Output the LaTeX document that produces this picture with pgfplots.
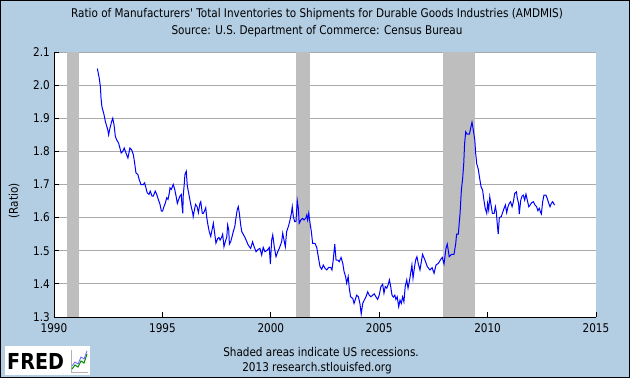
\documentclass[border=0pt]{standalone}
\usepackage{pgfplots}
\pgfplotsset{compat=1.18}
\usepackage{fontspec}
\setmainfont{DejaVu Sans}[FakeStretch=0.87, Ligatures=TeXOff]
\definecolor{fredbg}{RGB}{179,205,227}
\definecolor{recgray}{RGB}{190,190,190}
\definecolor{gridgray}{RGB}{170,170,170}
\definecolor{fredline}{RGB}{0,0,255}
\begin{document}
\fontsize{12}{14}\selectfont
\begin{tikzpicture}[x=1pt,y=1pt]
\fill[fredbg] (0,0) rectangle (630,378);
\useasboundingbox (0,0) rectangle (630,378);
\begin{axis}[
  at={(54pt,61pt)}, anchor=south west,
  scale only axis, width=542pt, height=265pt,
  xmin=1990, xmax=2015, ymin=1.3, ymax=2.1,
  axis x line*=bottom, axis y line*=left,
  axis background/.style={fill=white},
  xtick={1990,1995,2000,2005,2010,2015},
  ytick={1.3,1.4,1.5,1.6,1.7,1.8,1.9,2.0,2.1},
  ymajorgrids,
  major grid style={gridgray, line width=1pt},
  tick align=inside, major tick length=5pt,
  tick style={black, line width=1pt},
  axis line style={black, line width=1pt},
  /pgf/number format/assume math mode=true,
  tick label style={font=\fontsize{12}{14}\selectfont},
  xticklabel style={/pgf/number format/set thousands separator={}, yshift=-2pt},
  yticklabel style={/pgf/number format/.cd, fixed, fixed zerofill, precision=1},
  clip=true,
]
\addplot[fill=recgray, draw=none] coordinates {(1990.58,1.3) (1990.58,2.1) (1991.17,2.1) (1991.17,1.3)} -- cycle;
\addplot[fill=recgray, draw=none] coordinates {(2001.17,1.3) (2001.17,2.1) (2001.83,2.1) (2001.83,1.3)} -- cycle;
\addplot[fill=recgray, draw=none] coordinates {(2007.92,1.3) (2007.92,2.1) (2009.42,2.1) (2009.42,1.3)} -- cycle;
\addplot[fredline, line width=1pt, line join=miter] coordinates {
(1992.00,2.05) (1992.09,2.02) (1992.14,1.995) (1992.17,1.96) (1992.21,1.935) (1992.31,1.91)
(1992.37,1.89) (1992.48,1.865) (1992.52,1.85) (1992.58,1.87) (1992.66,1.89) (1992.71,1.90)
(1992.77,1.88) (1992.83,1.845) (1992.89,1.835) (1992.98,1.825) (1993.04,1.81) (1993.10,1.795)
(1993.17,1.80) (1993.24,1.81) (1993.32,1.795) (1993.41,1.78) (1993.50,1.81) (1993.58,1.805)
(1993.66,1.79) (1993.72,1.765) (1993.78,1.735) (1993.87,1.73) (1993.93,1.715) (1994.01,1.70)
(1994.12,1.70) (1994.18,1.705) (1994.24,1.69) (1994.30,1.675) (1994.38,1.67) (1994.44,1.68)
(1994.52,1.665) (1994.58,1.665) (1994.67,1.68) (1994.74,1.67) (1994.81,1.655) (1994.89,1.64)
(1994.95,1.62) (1995.01,1.62) (1995.07,1.633) (1995.13,1.643) (1995.20,1.66) (1995.26,1.655)
(1995.32,1.675) (1995.35,1.69) (1995.41,1.685) (1995.47,1.695) (1995.50,1.70) (1995.57,1.685)
(1995.63,1.665) (1995.69,1.643) (1995.75,1.655) (1995.81,1.665) (1995.87,1.67) (1995.90,1.64)
(1995.94,1.613) (1995.96,1.665) (1996.00,1.695) (1996.04,1.73) (1996.10,1.74) (1996.15,1.695)
(1996.21,1.675) (1996.27,1.653) (1996.33,1.633) (1996.40,1.613) (1996.42,1.603) (1996.49,1.628)
(1996.53,1.64) (1996.60,1.633) (1996.66,1.615) (1996.73,1.643) (1996.77,1.648) (1996.84,1.613)
(1996.89,1.613) (1996.96,1.623) (1997.00,1.63) (1997.04,1.603) (1997.10,1.578) (1997.16,1.558)
(1997.23,1.543) (1997.29,1.563) (1997.35,1.583) (1997.41,1.553) (1997.47,1.523) (1997.55,1.537)
(1997.61,1.54) (1997.66,1.532) (1997.73,1.54) (1997.78,1.55) (1997.84,1.512) (1997.90,1.527)
(1997.97,1.542) (1998.01,1.578) (1998.06,1.563) (1998.09,1.52) (1998.15,1.527) (1998.21,1.542)
(1998.27,1.558) (1998.34,1.573) (1998.39,1.598) (1998.45,1.623) (1998.50,1.633) (1998.55,1.613)
(1998.61,1.578) (1998.66,1.558) (1998.81,1.54) (1998.96,1.517) (1999.07,1.507) (1999.16,1.527)
(1999.22,1.514) (1999.32,1.497) (1999.41,1.504) (1999.50,1.507) (1999.58,1.487) (1999.65,1.51)
(1999.73,1.497) (1999.84,1.502) (1999.93,1.51) (1999.98,1.46) (2000.04,1.532) (2000.09,1.548)
(2000.16,1.512) (2000.24,1.482) (2000.32,1.497) (2000.39,1.507) (2000.50,1.527) (2000.55,1.553)
(2000.61,1.532) (2000.67,1.512) (2000.73,1.558) (2000.81,1.573) (2000.87,1.588) (2000.95,1.613)
(2000.99,1.633) (2001.04,1.603) (2001.10,1.588) (2001.16,1.588) (2001.22,1.651) (2001.27,1.628)
(2001.31,1.583) (2001.39,1.593) (2001.47,1.598) (2001.53,1.593) (2001.61,1.598) (2001.66,1.608)
(2001.70,1.593) (2001.75,1.613) (2001.81,1.583) (2001.87,1.558) (2001.93,1.522) (2002.04,1.522)
(2002.12,1.51) (2002.19,1.482) (2002.27,1.452) (2002.35,1.444) (2002.42,1.457) (2002.50,1.447)
(2002.58,1.442) (2002.67,1.45) (2002.76,1.45) (2002.82,1.442) (2002.88,1.472) (2002.95,1.52)
(2003.01,1.472) (2003.09,1.472) (2003.16,1.467) (2003.24,1.48) (2003.32,1.462) (2003.38,1.437)
(2003.45,1.422) (2003.50,1.402) (2003.57,1.422) (2003.62,1.387) (2003.68,1.361) (2003.78,1.356)
(2003.84,1.341) (2003.90,1.353) (2003.96,1.366) (2004.04,1.361) (2004.11,1.341) (2004.17,1.309)
(2004.24,1.341) (2004.31,1.351) (2004.39,1.361) (2004.47,1.376) (2004.54,1.366) (2004.62,1.361)
(2004.70,1.366) (2004.77,1.37) (2004.85,1.361) (2004.93,1.353) (2005.00,1.366) (2005.08,1.392)
(2005.16,1.399) (2005.22,1.372) (2005.28,1.392) (2005.35,1.387) (2005.41,1.397) (2005.47,1.412)
(2005.53,1.392) (2005.59,1.366) (2005.65,1.36) (2005.72,1.366) (2005.77,1.353) (2005.83,1.361)
(2005.90,1.331) (2005.96,1.351) (2006.02,1.341) (2006.08,1.361) (2006.14,1.346) (2006.20,1.392)
(2006.27,1.412) (2006.33,1.387) (2006.39,1.407) (2006.45,1.432) (2006.51,1.457) (2006.56,1.417)
(2006.62,1.447) (2006.68,1.472) (2006.74,1.482) (2006.80,1.462) (2006.88,1.442) (2007.00,1.489)
(2007.11,1.472) (2007.22,1.452) (2007.34,1.442) (2007.44,1.449) (2007.53,1.432) (2007.62,1.457)
(2007.73,1.462) (2007.84,1.474) (2007.91,1.48) (2007.99,1.46) (2008.08,1.507) (2008.14,1.52)
(2008.23,1.482) (2008.33,1.489) (2008.45,1.489) (2008.53,1.522) (2008.57,1.55) (2008.65,1.55)
(2008.69,1.583) (2008.73,1.613) (2008.79,1.683) (2008.85,1.719) (2008.90,1.764) (2008.94,1.824)
(2008.99,1.859) (2009.05,1.852) (2009.16,1.852) (2009.22,1.87) (2009.28,1.888) (2009.34,1.865)
(2009.41,1.834) (2009.45,1.794) (2009.50,1.762) (2009.57,1.746) (2009.64,1.716) (2009.70,1.693)
(2009.77,1.683) (2009.83,1.653) (2009.89,1.628) (2009.96,1.613) (2010.00,1.643) (2010.05,1.623)
(2010.10,1.663) (2010.16,1.638) (2010.22,1.613) (2010.30,1.613) (2010.36,1.633) (2010.40,1.618)
(2010.45,1.578) (2010.49,1.55) (2010.54,1.60) (2010.63,1.603) (2010.69,1.615) (2010.76,1.628)
(2010.82,1.638) (2010.88,1.615) (2010.94,1.633) (2011.00,1.643) (2011.06,1.648) (2011.13,1.633)
(2011.19,1.648) (2011.25,1.673) (2011.33,1.678) (2011.37,1.658) (2011.43,1.643) (2011.46,1.611)
(2011.53,1.653) (2011.59,1.665) (2011.65,1.668) (2011.71,1.653) (2011.77,1.671) (2011.83,1.653)
(2011.90,1.633) (2011.96,1.638) (2012.03,1.645) (2012.11,1.648) (2012.19,1.638) (2012.26,1.633)
(2012.32,1.621) (2012.38,1.628) (2012.45,1.615) (2012.48,1.611) (2012.54,1.648) (2012.60,1.668)
(2012.69,1.668) (2012.75,1.658) (2012.82,1.643) (2012.88,1.633) (2012.94,1.643) (2013.00,1.648)
(2013.06,1.641) (2013.09,1.638)
};
\end{axis}
\node at (317,364) {Ratio of Manufacturers' Total Inventories to Shipments for Durable Goods Industries (AMDMIS)};
\node at (317,347) {Source: U.S. Department of Commerce: Census Bureau};
\node[rotate=90] at (14,177) {(Ratio)};
\node at (321,26) {Shaded areas indicate US recessions.};
\node at (317,10) {2013 research.stlouisfed.org};
% FRED logo
\fill[white] (5,3) rectangle (90,32);
\node[anchor=west, inner sep=0pt, font=\fontsize{22}{22}\selectfont\bfseries] at (7,17) {FRED};
\draw[gray!60, line width=0.6pt] (71,6) -- (71,28);
\draw[gray!60, line width=0.6pt] (71,6) -- (88,6);
\draw[green!55!black, line width=1pt] (72,9) -- (75,13) -- (78,11) -- (81,17) -- (84,15) -- (87,24);
\draw[blue!60, line width=0.8pt] (72,12) -- (75,16) -- (78,14) -- (81,21) -- (84,19) -- (87,27);
\draw[black, line width=1pt] (0.5,0.5) rectangle (629.5,377.5);
\end{tikzpicture}
\end{document}
